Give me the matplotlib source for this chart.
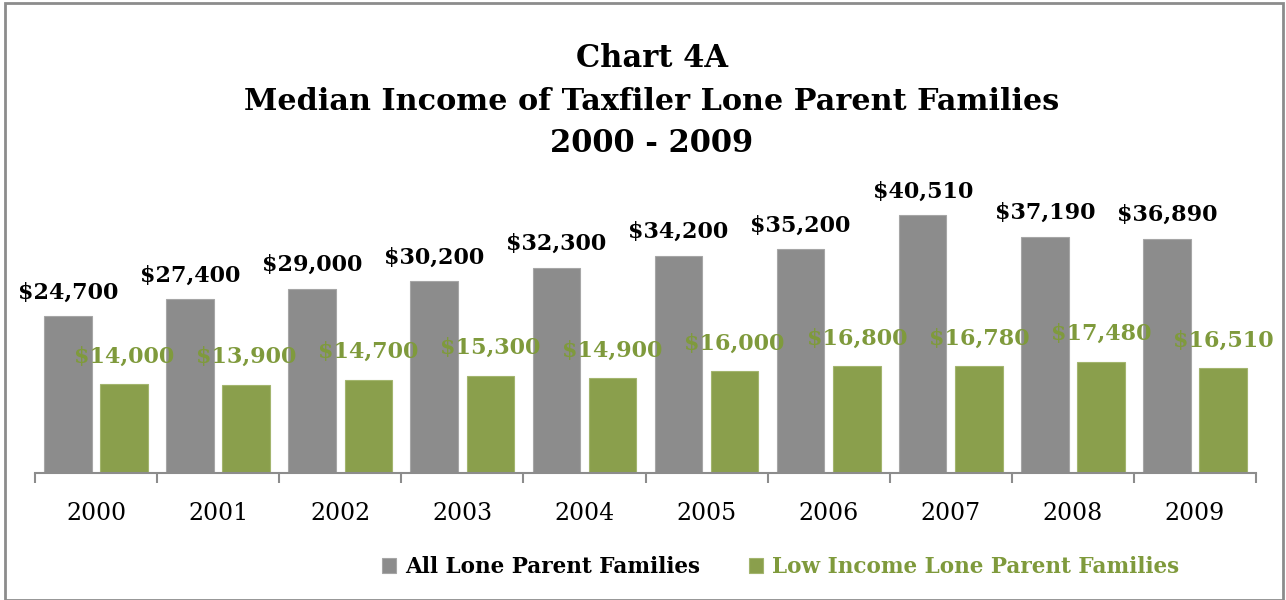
import matplotlib.pyplot as plt
import numpy as np
from matplotlib.patches import Rectangle

years = ['2000', '2001', '2002', '2003', '2004', '2005', '2006', '2007', '2008', '2009']
all_lone = [24700, 27400, 29000, 30200, 32300, 34200, 35200, 40510, 37190, 36890]
low_income = [14000, 13900, 14700, 15300, 14900, 16000, 16800, 16780, 17480, 16510]

gray = '#8c8c8c'
green = '#8a9f4c'
green_text = '#7f9a3c'
plt.rcParams['font.family'] = ['DejaVu Serif']

fig = plt.figure(figsize=(12.86, 6), dpi=100)
ax = fig.add_axes([0.0272, 0.2117, 0.9495, 0.4767])

x = np.arange(len(years))
w = 0.39
b1 = ax.bar(x - 0.23, all_lone, w, color=gray, edgecolor='#a6a6a6', linewidth=0.8)
b2 = ax.bar(x + 0.23, low_income, w, color=green, edgecolor='#a3b56e', linewidth=0.8)

for rect, v in zip(b1, all_lone):
    ax.annotate(f'${v:,}', (rect.get_x() + rect.get_width() / 2, v), xytext=(0, 9),
                textcoords='offset points', ha='center', va='bottom',
                fontsize=16, fontweight='bold', color='black')
for rect, v in zip(b2, low_income):
    ax.annotate(f'${v:,}', (rect.get_x() + rect.get_width() / 2, v), xytext=(0, 12),
                textcoords='offset points', ha='center', va='bottom',
                fontsize=16, fontweight='bold', color=green_text)

ax.set_xlim(-0.5, len(years) - 0.5)
ax.set_ylim(0, 45000)
ax.set_yticks([])
for s in ['top', 'right', 'left']:
    ax.spines[s].set_visible(False)
ax.spines['bottom'].set_color('#8c8c8c')
ax.spines['bottom'].set_linewidth(1.5)
ax.set_xticks(np.arange(len(years) + 1) - 0.5, minor=False)
ax.set_xticklabels([])
ax.tick_params(axis='x', direction='out', length=7, width=1.5, color='#8c8c8c')
ax.set_xticks(x, minor=True)
ax.set_xticklabels(years, minor=True)
ax.tick_params(axis='x', which='minor', length=0, pad=21, labelsize=17)

fig.text(0.507, 0.903, 'Chart 4A', ha='center', va='center', fontsize=22, fontweight='bold')
fig.text(0.507, 0.831, 'Median Income of Taxfiler Lone Parent Families', ha='center', va='center',
         fontsize=21.8, fontweight='bold')
fig.text(0.507, 0.760, '2000 - 2009', ha='center', va='center', fontsize=22, fontweight='bold')

leg = fig.legend([b1, b2], ['All Lone Parent Families', 'Low Income Lone Parent Families'],
                 loc='center', bbox_to_anchor=(0.607, 0.055), ncol=2, frameon=False,
                 prop={'weight': 'bold', 'size': 15.5}, handlelength=0.65, handleheight=0.75,
                 handletextpad=0.4, columnspacing=2.3)
leg.get_texts()[1].set_color(green_text)

fig.patches.append(Rectangle((0.004, 0.0), 0.994, 0.995, transform=fig.transFigure,
                             fill=False, edgecolor='#8c8c8c', linewidth=2))

fig.savefig('out.png', dpi=100)
